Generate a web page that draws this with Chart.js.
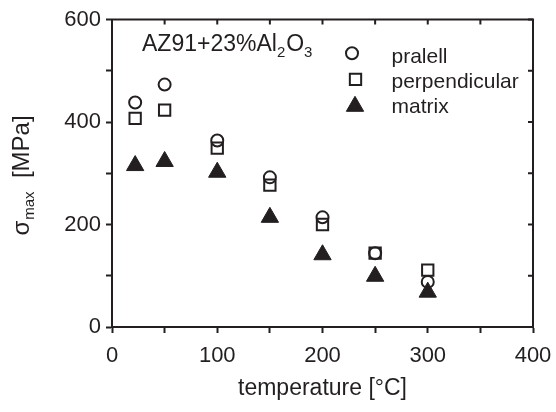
<!DOCTYPE html>
<html><head><meta charset="utf-8">
<script src="https://cdn.jsdelivr.net/npm/chart.js@4/dist/chart.umd.min.js"></script>
<style>html,body{margin:0;padding:0;background:#fff}#wrap{width:556px;height:412px}</style>
</head><body><div id="wrap"><canvas id="c" width="556" height="412"></canvas></div>
<script>
// ---- data ----
const temperature   = [22, 50, 100, 150, 200, 250, 300];
const pralell       = [438, 473, 364, 292, 214, 144, 88];
const perpendicular = [407, 423, 349, 277, 200, 144, 111];
const matrix        = [315, 323, 302, 214, 141, 99, 68];
const seriesNames   = ['pralell', 'perpendicular', 'matrix'];
const xTickLabels   = [0, 100, 200, 300, 400];
const yTickLabels   = [0, 200, 400, 600];
const xTitle = 'temperature [°C]';
const yTitleMain = 'σ', yTitleSub = 'max', yTitleRest = '  [MPa]';

const INK = '#231f20';
const FONT = '"Liberation Sans", Arial, sans-serif';
const pts = vals => temperature.map((t, i) => ({x: t, y: vals[i]}));

const frame = {
  id: 'frame',
  afterDraw(chart) {
    const {ctx, chartArea: a, scales: {x, y}} = chart;
    ctx.save();
    ctx.strokeStyle = INK; ctx.lineWidth = 2; ctx.lineCap = 'butt';
    ctx.beginPath();
    ctx.moveTo(a.left - 1, a.top); ctx.lineTo(a.right, a.top); ctx.lineTo(a.right, a.bottom + 1);
    ctx.stroke();
    ctx.beginPath();
    x.ticks.forEach(t => { const px = x.getPixelForValue(t.value); ctx.moveTo(px, a.top); ctx.lineTo(px, a.top + 5); });
    y.ticks.forEach(t => { const py = y.getPixelForValue(t.value); ctx.moveTo(a.right, py); ctx.lineTo(a.right - 5, py); });
    ctx.stroke();

    ctx.fillStyle = INK;
    // y title (rotated, with subscript)
    ctx.save();
    ctx.translate(29, 176);
    ctx.rotate(-Math.PI / 2);
    const fMain = '24px ' + FONT, fSub = '15px ' + FONT;
    ctx.font = fMain; const w1 = ctx.measureText(yTitleMain).width, w3 = ctx.measureText(yTitleRest).width;
    ctx.font = fSub; const w2 = ctx.measureText(yTitleSub).width;
    let sx = -(w1 + w2 + w3) / 2;
    ctx.textBaseline = 'alphabetic'; ctx.textAlign = 'left';
    ctx.font = fMain; ctx.fillText(yTitleMain, sx, 0); sx += w1 + 1;
    ctx.font = fSub; ctx.fillText(yTitleSub, sx, 5); sx += w2;
    ctx.font = fMain; ctx.fillText(yTitleRest, sx, 0);
    ctx.restore();

    // annotation AZ91+23%Al2O3
    ctx.textBaseline = 'alphabetic'; ctx.textAlign = 'left';
    const parts = [['AZ91+23%Al', 0], ['2', 1], ['O', 0], ['3', 1]];
    let ax = 142;
    parts.forEach(([s, sub]) => {
      ctx.font = (sub ? '15px ' : '23px ') + FONT;
      ctx.fillText(s, ax, sub ? 56.5 : 50.5);
      ax += ctx.measureText(s).width + (sub ? 1 : 0);
    });

    // legend
    const legendPos = [[352, 53.3, 63.3], [355.5, 79.3, 88.3], [355, 106.3, 112.7]];
    chart.data.datasets.forEach((ds, i) => {
      const [mx, my, ty] = legendPos[i];
      ctx.save();
      ctx.fillStyle = ds.backgroundColor; ctx.strokeStyle = ds.borderColor; ctx.lineWidth = ds.borderWidth;
      Chart.helpers.drawPoint(ctx, {pointStyle: ds.pointStyle, radius: ds.pointRadius, rotation: 0, borderWidth: ds.borderWidth}, mx, my);
      ctx.restore();
      ctx.font = '21px ' + FONT; ctx.fillStyle = INK;
      ctx.fillText(ds.label, 391.5, ty);
    });
    ctx.restore();
  }
};

const axisCommon = {
  type: 'linear',
  border: {display: true, color: INK, width: 2},
  grid: {drawOnChartArea: false, drawTicks: true, tickLength: 6, tickColor: INK, tickWidth: 2},
};

new Chart(document.getElementById('c'), {
  type: 'scatter',
  data: {
    datasets: [
      {label: seriesNames[0], data: pts(pralell), pointStyle: 'circle', pointRadius: 6, borderWidth: 2,
       borderColor: INK, backgroundColor: 'rgba(0,0,0,0)', order: 2},
      {label: seriesNames[1], data: pts(perpendicular), pointStyle: 'rect', pointRadius: 8, borderWidth: 2,
       borderColor: INK, backgroundColor: 'rgba(0,0,0,0)', order: 3},
      {label: seriesNames[2], data: pts(matrix), pointStyle: 'triangle', pointRadius: 10, borderWidth: 1,
       borderColor: INK, backgroundColor: INK, order: 1},
    ]
  },
  options: {
    responsive: false, animation: false, devicePixelRatio: 1,
    layout: {padding: {left: 0, right: 23, top: 19.5, bottom: 0}},
    plugins: {legend: {display: false}, tooltip: {enabled: false}},
    elements: {point: {hoverRadius: 0}},
    scales: {
      x: {...axisCommon, min: 0, max: 400,
        ticks: {stepSize: 50, autoSkip: false, maxRotation: 0, color: INK, font: {family: FONT, size: 22}, padding: 10,
          callback: v => xTickLabels.includes(v) ? String(v) : ''},
        title: {display: true, text: xTitle, color: INK, font: {family: FONT, size: 23}, padding: {top: 0, bottom: 10}},
        afterFit: s => { s.height = 85; s.paddingLeft = 0; s.paddingRight = 0; }
      },
      y: {...axisCommon, min: 0, max: 600,
        ticks: {stepSize: 100, autoSkip: false, color: INK, font: {family: FONT, size: 22}, padding: 5,
          callback: v => yTickLabels.includes(v) ? String(v) : ''},
        afterFit: s => { s.width = 112; s.paddingTop = 0; s.paddingBottom = 0; }
      }
    }
  },
  plugins: [frame]
});
</script></body></html>
